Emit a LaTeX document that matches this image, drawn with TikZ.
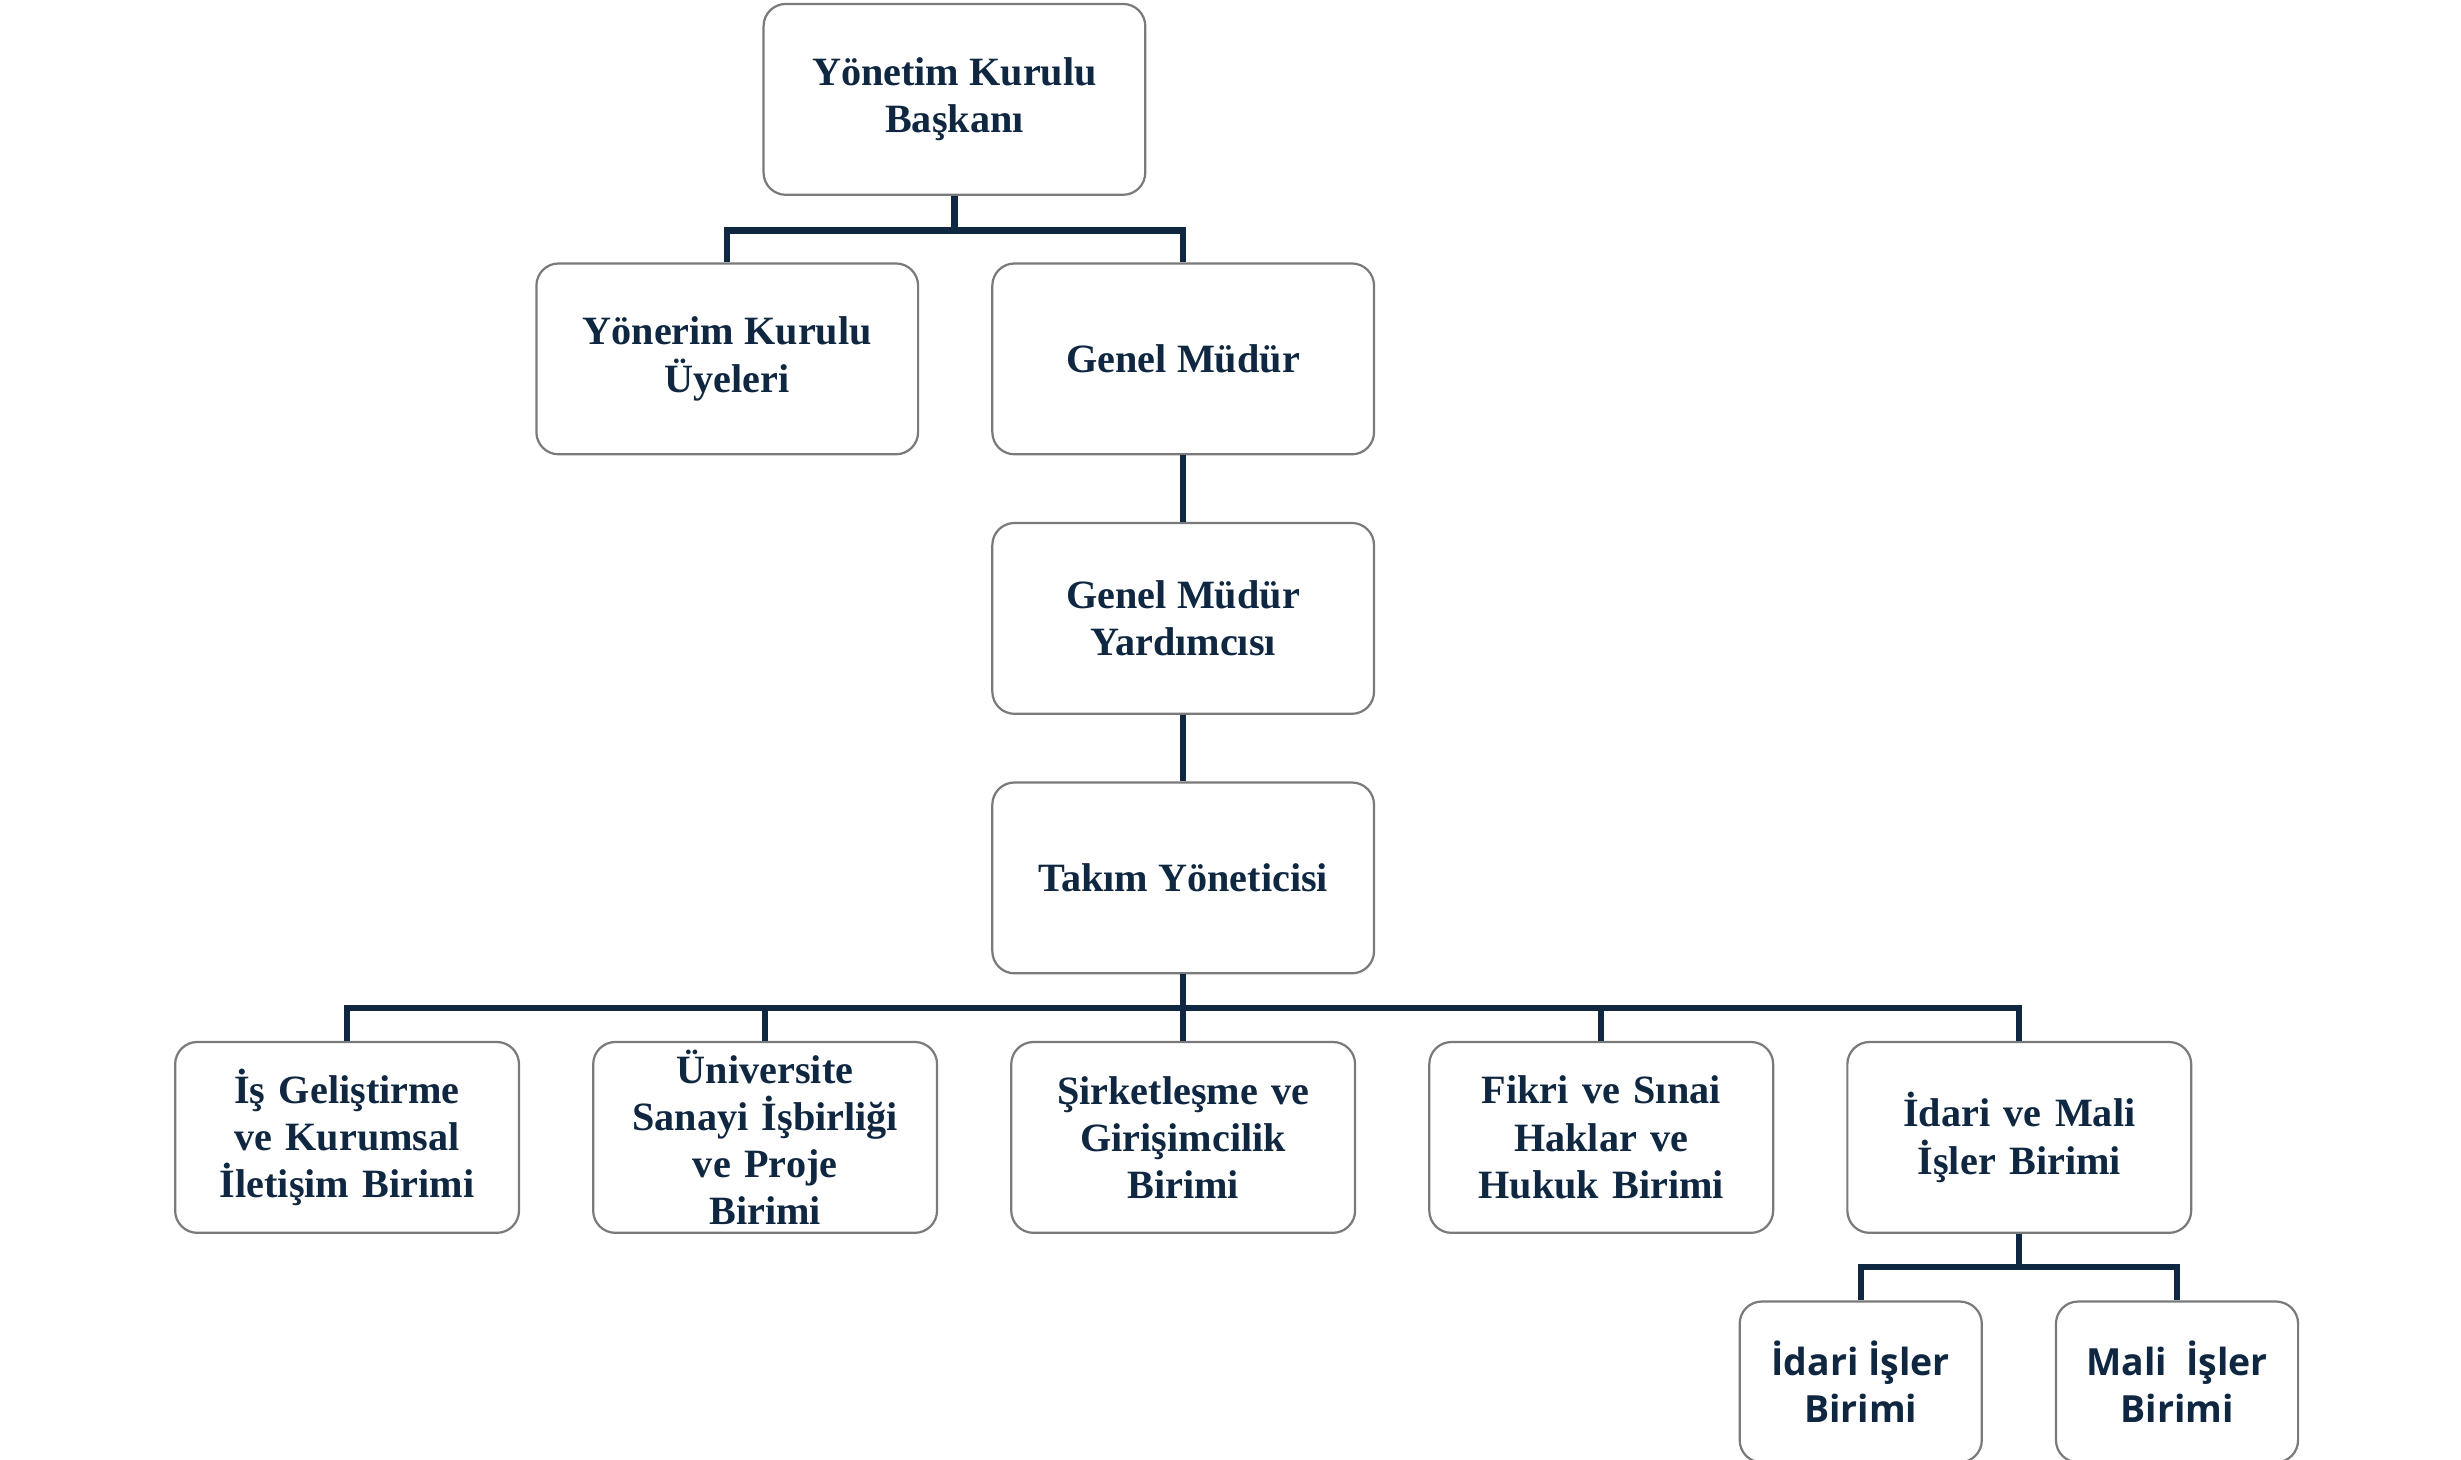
\documentclass[tikz,border=0pt]{standalone}
\usepackage{fontspec}
\setmainfont{Liberation Serif}
\newfontfamily\boxsans{Open Sans}
\usetikzlibrary{positioning}
\definecolor{navy}{HTML}{0F2740}
\definecolor{frame}{HTML}{7A7A7A}
\begin{document}
\begin{tikzpicture}[x=0.02cm,y=-0.02cm,
          unit/.style={draw=frame, line width=0.8pt, rounded corners=8pt, fill=white,
            align=center, text=navy, font=\fontsize{14.5}{17}\selectfont\bfseries,
            minimum width=4.84cm, minimum height=2.42cm, inner sep=2pt},
          dept/.style={unit, minimum width=4.36cm, text width=4.2cm},
          sub/.style={unit, minimum width=3.07cm, minimum height=2.04cm,
            font=\boxsans\fontsize{13.5}{17}\selectfont\bfseries},
          link/.style={draw=navy, line width=2.3pt}
        ]
        \useasboundingbox (0,0) rectangle (1560,925);

        % Upper levels
        \node[unit] (ykb) at (605,63) {Yönetim Kurulu\\Başkanı};
        \node[unit] (yku) at (461,227.5) {Yönerim Kurulu\\Üyeleri};
        \node[unit] (gm) at (750,227.5) {Genel Müdür};
        \node[unit] (gmy) at (750,392) {Genel Müdür\\Yardımcısı};
        \node[unit] (ty) at (750,556.5) {Takım Yöneticisi};

        % Units
        \node[dept] (b1) at (220,721) {İş Geliştirme\\ve Kurumsal\\İletişim Birimi};
        \node[dept] (b2) at (485,721) {Üniversite\\Sanayi İşbirliği\\ve Proje\\Birimi};
        \node[dept] (b3) at (750,721) {Şirketleşme ve\\Girişimcilik\\Birimi};
        \node[dept] (b4) at (1015,721) {Fikri ve Sınai\\Haklar ve\\Hukuk Birimi};
        \node[dept] (b5) at (1280,721) {İdari ve Mali\\İşler Birimi};

        % Sub units
        \node[sub] (s1) at (1179.5,876) {İdari İşler\\Birimi};
        \node[sub] (s2) at (1380,876) {Mali~ İşler\\Birimi};

        % Connectors
        \coordinate (j1) at (605,146);
        \draw[link] (ykb) -- (j1);
        \draw[link] (yku.north) |- (j1) -| (gm.north);
        \draw[link] (gm) -- (gmy);
        \draw[link] (gmy) -- (ty);
        \coordinate (j2) at (750,639);
        \draw[link] (ty) -- (j2);
        \draw[link] (b1.north) |- (j2) -| (b5.north);
        \foreach \b in {b2,b3,b4} \draw[link] (\b.north) -- (\b.north |- j2);
        \coordinate (j3) at (1280,803);
        \draw[link] (b5) -- (j3);
        \draw[link] (s1.north) |- (j3) -| (s2.north);
\end{tikzpicture}
\end{document}
